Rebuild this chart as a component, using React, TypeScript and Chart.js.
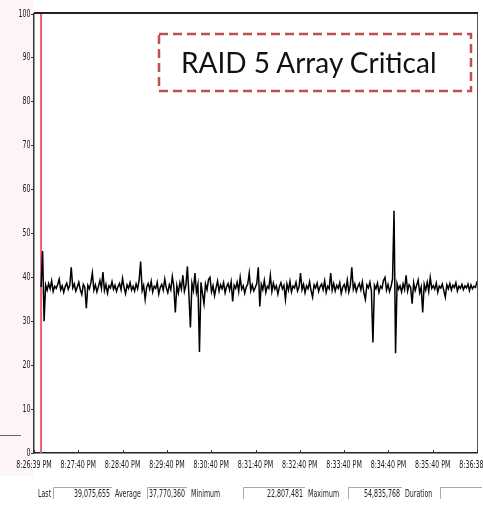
import React, { useEffect, useRef } from "react";
import { Chart, registerables } from "chart.js";

Chart.register(...registerables);

// ---- data ----
const xTickLabels = [
  "8:26:39 PM", "8:27:40 PM", "8:28:40 PM", "8:29:40 PM", "8:30:40 PM", "8:31:40 PM",
  "8:32:40 PM", "8:33:40 PM", "8:34:40 PM", "8:35:40 PM", "8:36:38 PM",
];
const yMin = 0;
const yMax = 100;
const yStep = 10;
// sample positions along the time axis (in label-interval units)
const sampleStart = 0.16;
const sampleEnd = 10;
const alertMarkerAt = 0.16;
const counterValues = [
  37.8, 46.0, 30.0, 38.3, 37.1, 38.6, 37.4, 39.2, 36.8, 38.0,
  37.5, 38.4, 39.6, 37.2, 38.1, 36.6, 37.9, 38.7, 37.3, 38.2,
  42.3, 37.6, 38.5, 36.9, 37.8, 38.9, 37.2, 36.1, 38.4, 37.7,
  33.0, 38.2, 37.4, 38.8, 41.0, 37.1, 38.3, 36.7, 37.9, 39.3,
  37.5, 41.2, 37.0, 38.4, 36.4, 38.1, 37.6, 39.0, 37.3, 38.2,
  36.8, 37.9, 38.6, 37.2, 39.8, 37.7, 36.3, 38.3, 37.5, 38.8,
  37.1, 38.0, 36.9, 38.5, 37.4, 39.4, 43.6, 37.0, 38.2, 35.0,
  37.8, 38.6, 37.3, 39.1, 36.7, 38.0, 37.5, 38.9, 36.2, 37.7,
  38.4, 37.1, 39.6, 37.6, 36.5, 38.3, 37.2, 40.2, 37.9, 32.0,
  38.1, 36.4, 38.8, 37.3, 40.5, 36.8, 38.2, 42.5, 36.1, 28.6,
  38.7, 37.0, 41.0, 36.6, 38.4, 23.0, 38.9, 36.3, 34.0, 38.5,
  37.2, 39.5, 40.0, 36.7, 38.1, 35.8, 37.6, 39.2, 36.9, 38.3,
  37.4, 38.8, 36.5, 37.9, 38.6, 37.1, 39.0, 34.5, 38.2, 37.5,
  38.9, 36.8, 40.0, 37.3, 38.1, 36.4, 37.8, 38.5, 41.0, 37.0,
  38.3, 36.9, 37.7, 38.6, 42.3, 33.4, 38.4, 37.2, 39.3, 36.6,
  38.0, 37.5, 40.5, 36.8, 38.7, 37.3, 38.1, 36.2, 37.9, 38.8,
  37.4, 38.2, 35.0, 38.5, 37.1, 39.1, 36.7, 38.0, 37.6, 38.9,
  36.9, 37.8, 41.0, 37.2, 38.4, 36.5, 38.1, 37.4, 39.0, 37.0,
  35.5, 38.3, 37.6, 38.7, 36.8, 37.9, 38.5, 37.2, 39.2, 36.6,
  38.0, 37.4, 41.0, 37.1, 38.6, 36.9, 38.2, 37.5, 38.8, 36.4,
  37.8, 38.4, 37.0, 39.4, 36.7, 38.1, 42.3, 37.3, 38.5, 36.8,
  37.9, 38.6, 37.2, 39.0, 36.5, 35.0, 38.3, 37.6, 38.9, 36.9,
  25.2, 38.2, 37.4, 38.7, 36.6, 38.0, 37.5, 39.3, 40.0, 37.1,
  38.4, 36.8, 37.9, 39.6, 55.2, 22.7, 38.6, 37.3, 38.1, 36.7,
  38.5, 37.2, 40.5, 36.9, 38.3, 37.7, 34.0, 38.8, 37.0, 38.2,
  39.4, 36.5, 37.8, 32.0, 38.4, 37.1, 38.9, 36.8, 40.0, 37.5,
  38.1, 37.3, 38.7, 36.6, 38.0, 37.6, 38.5, 37.0, 35.5, 38.3,
  37.4, 38.6, 37.1, 38.2, 37.7, 38.8, 36.9, 38.0, 37.5, 38.4,
  37.2, 38.1, 37.6, 38.5, 37.0, 38.3, 37.4, 38.0, 37.7, 39.1,
];
const annotationText = "RAID 5 Array Critical";
const statLabels = ["Last", "Average", "Minimum", "Maximum", "Duration"];
const statValues = ["39,075,655", "37,770,360", "22,807,481", "54,835,768", ""];

// ---- layout (styles only) ----
const W = 483;
const H = 508;
const tickFont = "'Liberation Sans Narrow', 'DejaVu Sans Condensed', 'Roboto', sans-serif";
const squeeze = 0.7;
const statLayout = [
  { labelX: 38, fieldX0: 53, fieldX1: 112 },
  { labelX: 115, fieldX0: 147, fieldX1: 187 },
  { labelX: 191, fieldX0: 243, fieldX1: 305 },
  { labelX: 308, fieldX0: 348, fieldX1: 402 },
  { labelX: 405, fieldX0: 440, fieldX1: 482 },
];

const framePlugin = {
  id: "perfFrame",
  beforeDatasetsDraw(chart: any) {
    const { ctx, chartArea, scales } = chart;
    const x = scales.x.getPixelForValue(alertMarkerAt);
    ctx.save();
    ctx.strokeStyle = "#ef5a78";
    ctx.lineWidth = 2;
    ctx.beginPath();
    ctx.moveTo(x, chartArea.top);
    ctx.lineTo(x, chartArea.bottom);
    ctx.stroke();
    ctx.restore();
  },
  afterDraw(chart: any) {
    const { ctx, chartArea, scales } = chart;
    ctx.save();
    ctx.strokeStyle = "#222";
    ctx.lineWidth = 2;
    ctx.beginPath();
    ctx.moveTo(chartArea.left, chartArea.top - 1);
    ctx.lineTo(chartArea.right + 1, chartArea.top - 1);
    ctx.stroke();
    ctx.strokeStyle = "#555";
    ctx.lineWidth = 1;
    ctx.beginPath();
    ctx.moveTo(chartArea.right + 0.5, chartArea.top);
    ctx.lineTo(chartArea.right + 0.5, chartArea.bottom);
    ctx.stroke();
    // inward tick marks on the time axis
    ctx.strokeStyle = "#333";
    scales.x.ticks.forEach((t: any) => {
      const px = Math.round(scales.x.getPixelForValue(t.value)) + 0.5;
      ctx.beginPath();
      ctx.moveTo(px, chartArea.bottom);
      ctx.lineTo(px, chartArea.bottom - 3);
      ctx.stroke();
    });
    // condensed tick labels, taken from the scales' own ticks
    ctx.fillStyle = "#1a1a1a";
    ctx.font = `10px ${tickFont}`;
    ctx.textBaseline = "middle";
    ctx.textAlign = "center";
    scales.x.ticks.forEach((t: any) => {
      const px = scales.x.getPixelForValue(t.value);
      ctx.save();
      ctx.translate(px, chartArea.bottom + 12);
      ctx.scale(squeeze, 1);
      ctx.fillText(String(t.label), 0, 0);
      ctx.restore();
    });
    ctx.textAlign = "right";
    scales.y.ticks.forEach((t: any) => {
      const py = scales.y.getPixelForValue(t.value);
      ctx.save();
      ctx.translate(chartArea.left - 3.5, py);
      ctx.scale(squeeze, 1);
      ctx.fillText(String(t.label), 0, 0);
      ctx.restore();
    });
    ctx.restore();
  },
};

export default function App() {
  const canvasRef = useRef<HTMLCanvasElement | null>(null);

  useEffect(() => {
    if (!canvasRef.current) return;
    const step = (sampleEnd - sampleStart) / (counterValues.length - 1);
    const points = counterValues.map((v, i) => ({ x: sampleStart + i * step, y: v }));
    const chart = new Chart(canvasRef.current, {
      type: "line",
      data: {
        datasets: [
          {
            data: points,
            borderColor: "#000",
            borderWidth: 1.5,
            pointRadius: 0,
            tension: 0,
            fill: false,
          },
        ],
      },
      options: {
        responsive: false,
        animation: false,
        devicePixelRatio: 1,
        layout: { padding: { top: 14, right: 6, bottom: 35, left: 0 } },
        plugins: { legend: { display: false }, tooltip: { enabled: false }, title: { display: false } },
        scales: {
          x: {
            type: "linear",
            min: 0,
            max: xTickLabels.length - 1,
            afterBuildTicks: (scale: any) => {
              scale.ticks = xTickLabels.map((_, i) => ({ value: i }));
            },
            afterFit: (scale: any) => {
              scale.height = 20;
              scale.paddingLeft = 0;
              scale.paddingRight = 0;
            },
            grid: { display: true, drawOnChartArea: false, drawTicks: false },
            border: { display: true, color: "#222", width: 1.5 },
            ticks: {
              display: false,
              autoSkip: false,
              maxRotation: 0,
              minRotation: 0,
              callback: (v: any) => xTickLabels[Math.round(Number(v))] ?? "",
            },
          },
          y: {
            type: "linear",
            min: yMin,
            max: yMax,
            afterFit: (scale: any) => {
              scale.width = 34;
              scale.paddingTop = 0;
              scale.paddingBottom = 0;
            },
            grid: { display: true, drawOnChartArea: false, drawTicks: true, tickLength: 3, color: "#333" },
            border: { display: true, color: "#333", width: 1.5 },
            ticks: {
              display: false,
              stepSize: yStep,
            },
          },
        },
      },
      plugins: [framePlugin],
    });
    return () => chart.destroy();
  }, []);

  return (
    <div style={{ position: "absolute", left: 0, top: 0, width: W, height: H, background: "#fff", overflow: "hidden" }}>
      <div style={{ position: "absolute", left: 0, top: 0, width: 33, height: 476, background: "#fcf4f8" }} />
      <div style={{ position: "absolute", left: 0, top: 435, width: 21, height: 1, background: "#666" }} />
      <canvas ref={canvasRef} width={W} height={H} style={{ position: "absolute", left: 0, top: 0, width: W, height: H }} />
      <svg width={W} height={H} style={{ position: "absolute", left: 0, top: 0 }}>
        <rect x={159} y={34} width={312} height={57} fill="none" stroke="#c0504d" strokeWidth={2.5} strokeDasharray="9 5" />
        <text x={181} y={73} fontFamily="Lato, 'Open Sans', sans-serif" fontSize={28} fill="#111">
          {annotationText}
        </text>
        {statLabels.map((lab, i) => {
          const L = statLayout[i];
          return (
            <g key={lab}>
              <path d={`M${L.fieldX0 + 0.5},${499} V${487.5} H${L.fieldX1}`} stroke="#aaa" strokeWidth={1} fill="none" />
              <text transform={`translate(${L.labelX},497) scale(${squeeze},1)`} fontFamily={tickFont} fontSize={10} fill="#222">{lab}</text>
              {statValues[i] ? (
                <text
                  transform={`translate(${L.fieldX1 - 2},497) scale(${squeeze},1)`}
                  textAnchor="end"
                  fontFamily={tickFont}
                  fontSize={10}
                  fill="#222"
                >
                  {statValues[i]}
                </text>
              ) : null}
            </g>
          );
        })}
      </svg>
    </div>
  );
}
